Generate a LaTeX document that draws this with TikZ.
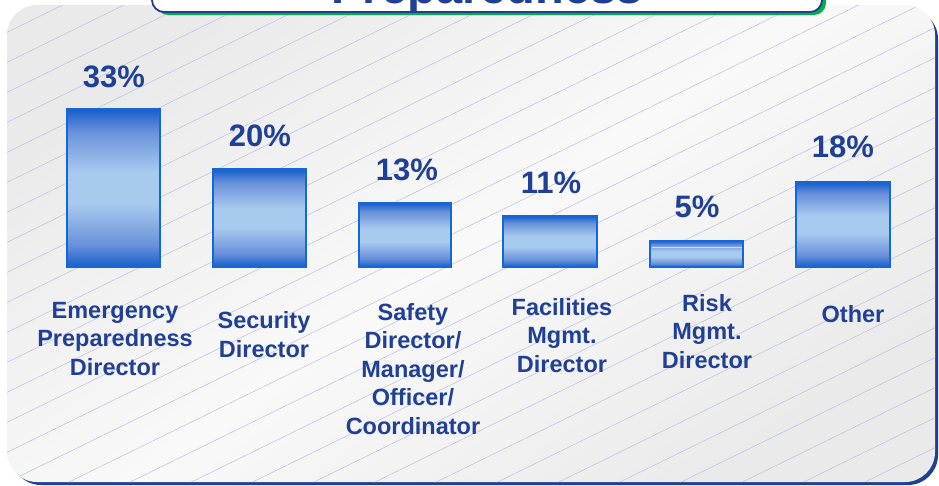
\documentclass[tikz,border=0pt]{standalone}
\usepackage{fontspec}
\setmainfont{Liberation Sans}
\definecolor{txtblue}{RGB}{31,64,148}
\definecolor{shadowblue}{RGB}{31,64,146}
\definecolor{titlegreen}{RGB}{0,176,80}
\definecolor{titleborder}{RGB}{40,60,140}
\definecolor{bgdark}{RGB}{234,234,234}
\definecolor{bglight}{RGB}{249,249,249}
\definecolor{hatchcol}{RGB}{186,191,225}
\definecolor{bardark}{RGB}{22,94,204}
\definecolor{barmid}{RGB}{105,145,218}
\definecolor{barlight}{RGB}{168,202,238}
\definecolor{barborder}{RGB}{18,104,214}
\pgfdeclareverticalshading{barshade}{100bp}{color(0bp)=(bardark); color(25bp)=(bardark); color(32bp)=(barmid); color(45bp)=(barlight); color(55bp)=(barlight); color(68bp)=(barmid); color(75bp)=(bardark); color(100bp)=(bardark)}
\begin{document}
\begin{tikzpicture}[x=1pt,y=-1pt,
  bar/.style={draw=barborder, line width=1.6pt, shading=barshade},
  pct/.style={text=txtblue, font=\bfseries\fontsize{31}{36}\selectfont, anchor=base, inner sep=0pt},
  cat/.style={text=txtblue, font=\bfseries\fontsize{23.5}{28.5}\selectfont, align=center, anchor=base, inner sep=0pt},
  hatch/.style={draw=hatchcol, line width=0.5pt}]
\useasboundingbox (0,0) rectangle (939,485);
% panel shadow and panel
\fill[shadowblue, rounded corners=30pt] (11,9) rectangle (938,485);
\shade[rounded corners=30pt, top color=bgdark, bottom color=bgdark, middle color=bglight, shading angle=35] (7,5) rectangle (935,482);
\begin{scope}
  \clip[rounded corners=30pt] (7,5) rectangle (935,482);
  \foreach \k in {0,...,33} \draw[hatch] (0,5.8+30*\k) -- (940,5.8+30*\k-0.49*940);
\end{scope}
% title box
\fill[titlegreen, rounded corners=12pt] (156,-40) rectangle (826,15);
\draw[titleborder, fill=white, line width=1.8pt, rounded corners=12pt] (152,-40) rectangle (822,12);
\node[text=txtblue, font=\bfseries\fontsize{47}{50}\selectfont, anchor=base, inner sep=0pt] (title) at (487,3.5) {Preparedness};
% bars
\path[bar] (67,109) rectangle (160,267);
\path[bar] (213,169) rectangle (306,267);
\path[bar] (359,203) rectangle (451,267);
\path[bar] (503,216) rectangle (597,267);
\path[bar] (650,241) rectangle (743,267);
\draw[white!40!barlight, line width=0.8pt] (651.5,247) -- (741.5,247);
\path[bar] (796,182) rectangle (890,267);
% percentages
\node[pct] (p1) at (114,87) {33\%};
\node[pct] (p2) at (260,146) {20\%};
\node[pct] (p3) at (407,180) {13\%};
\node[pct] (p4) at (551,193) {11\%};
\node[pct] (p5) at (697,217) {5\%};
\node[pct] (p6) at (843,157) {18\%};
% categories (base = last line)
\node[cat] (c1) at (115,375) {Emergency\\Preparedness\\Director};
\node[cat] (c2) at (264,357) {Security\\Director};
\node[cat] (c3) at (413,434) {Safety\\Director/\\Manager/\\Officer/\\Coordinator};
\node[cat] (c4) at (562,372) {Facilities\\Mgmt.\\Director};
\node[cat] (c5) at (707,368) {Risk\\Mgmt.\\Director};
\node[cat] (c6) at (853,322) {Other};
\end{tikzpicture}
\end{document}
